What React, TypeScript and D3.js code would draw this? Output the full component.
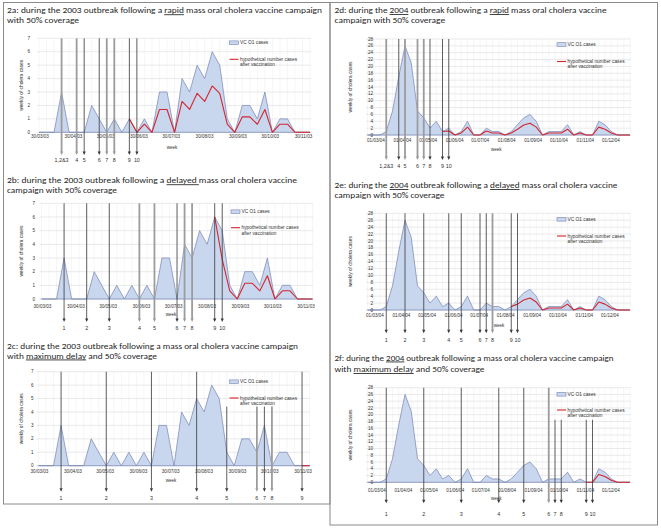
import React from 'react';
import * as d3 from 'd3';

const N = null;

// ---------- data ----------
const cases2003 = [0, 0, 0, 3, 0, 0, 0, 2, 1, 0, 1, 0, 1, 0, 1, 0, 3, 3, 0, 4, 3, 5, 4, 6, 5, 1, 0, 2, 2, 1, 3, 0, 1, 1, 0, 0, 0];
const rapid2003 = [N, N, N, N, N, N, N, N, N, N, N, N, 1, 0, 0.6, 0, 1.7, 1.7, 0, 2.3, 1.7, 2.9, 2.3, 3.45, 2.9, 0.6, 0, 1.15, 1.15, 0.6, 1.7, 0, 0.6, 0.6, 0, 0, 0];
const delayed2003 = [N, N, N, N, N, N, N, N, N, N, N, N, N, N, N, N, N, N, N, N, N, N, N, 6, 2.9, 0.6, 0, 1.15, 1.15, 0.6, 1.7, 0, 0.6, 0.6, 0, 0, 0];
const maxDelay2003 = [N, N, N, N, N, N, N, N, N, N, N, N, N, N, N, N, N, N, N, N, N, N, N, N, N, N, N, N, N, N, N, N, N, N, N, 0, 0];

const cases2004 = [0, 0, 0, 1, 7, 17, 26, 21, 7, 5, 2, 4, 1, 2, 0, 1, 4, 0, 0, 2, 1, 1, 0, 1, 3, 5, 6, 4, 0, 1, 1, 1, 3, 0, 1, 0, 0, 4, 3, 1, 0, 0, 0];
const rapid2004 = [N, N, N, N, N, N, N, N, N, N, N, N, 1, 1.15, 0, 0.6, 2.3, 0, 0, 1.15, 0.6, 0.6, 0, 0.6, 1.7, 2.9, 3.45, 2.3, 0, 0.6, 0.6, 0.6, 1.7, 0, 0.6, 0, 0, 2.3, 1.7, 0.6, 0, 0, 0];
const delayed2004 = [N, N, N, N, N, N, N, N, N, N, N, N, N, N, N, N, N, N, N, N, N, N, N, 1, 1.7, 2.9, 3.45, 2.3, 0, 0.6, 0.6, 0.6, 1.7, 0, 0.6, 0, 0, 2.3, 1.7, 0.6, 0, 0, 0];
const maxDelay2004 = [N, N, N, N, N, N, N, N, N, N, N, N, N, N, N, N, N, N, N, N, N, N, N, N, N, N, N, N, N, N, N, N, N, N, N, 0, 0, 2.3, 1.7, 0.6, 0, 0, 0];

const ticks2003 = ['30/03/03', '30/04/03', '30/05/03', '30/06/03', '30/07/03', '30/08/03', '30/09/03', '30/10/03', '30/11/03'];
const ticks2004 = ['01/03/04', '01/04/04', '01/05/04', '01/06/04', '01/07/04', '01/08/04', '01/09/04', '01/10/04', '01/11/04', '01/12/04'];

// vaccination round weeks (index in weekly series)
const arrowsRapid = [3, 5, 6, 8, 9, 10, 12, 13];
const labelsRapid = ['1,2&3', '4', '5', '6', '7', '8', '9', '10'];
const arrowsDelayed = [3, 6, 9, 13, 15, 18, 19, 20, 23, 24];
const labelsDelayed = ['1', '2', '3', '4', '5', '6', '7', '8', '9', '10'];
const arrowsMax2003 = [3, 9, 15, 21, 25, 29, 30, 31, 35];
const labelsMax2003 = ['1', '2', '3', '4', '5', '6', '7', '8', '9'];
const arrowsMax2004 = [3, 9, 15, 21, 25, 29, 30, 31, 35, 36];
const labelsMax2004 = ['1', '2', '3', '4', '5', '6', '7', '8', '9', '10'];

const legendCases = 'VC O1 cases';
const legendRed = ['hypothetical number cases', 'after vaccination'];
const yTitle = 'weekly of cholera cases';
const xTitle = 'week';

type Seg = { t: string; u?: boolean };
const titles: Record<string, Seg[][]> = {
  a: [[{ t: '2a: during the 2003 outbreak following a ' }, { t: 'rapid', u: true }, { t: ' mass oral cholera vaccine campaign' }], [{ t: 'with 50% coverage' }]],
  b: [[{ t: '2b: during the 2003 outbreak following a ' }, { t: 'delayed ', u: true }, { t: 'mass oral cholera vaccine' }], [{ t: 'campaign with 50% coverage' }]],
  c: [[{ t: '2c: during the 2003 outbreak following a mass oral cholera vaccine campaign' }], [{ t: 'with ' }, { t: 'maximum delay', u: true }, { t: ' and 50% coverage' }]],
  d: [[{ t: '2d: during the ' }, { t: '2004', u: true }, { t: ' outbreak following a ' }, { t: 'rapid', u: true }, { t: ' mass oral cholera vaccine' }], [{ t: 'campaign with 50% coverage' }]],
  e: [[{ t: '2e: during the ' }, { t: '2004', u: true }, { t: ' outbreak following a ' }, { t: 'delayed', u: true }, { t: ' mass oral cholera vaccine' }], [{ t: 'campaign with 50% coverage' }]],
  f: [[{ t: '2f: during the ' }, { t: '2004', u: true }, { t: ' outbreak following a mass oral cholera vaccine campaign' }], [{ t: 'with ' }, { t: 'maximum delay', u: true }, { t: ' and 50% coverage' }]],
};

// ---------- layout ----------
interface Cfg {
  title: Seg[][]; titleX: number; titleY: number[]; titleW: number[];
  cases: number[]; red: (number | null)[];
  x0: number; step: number; plotL: number; plotR: number;
  ticks: string[]; tickRange: [number, number]; tickY: number;
  yMax: number; yStep: number; yTop: number; yBottom: number; yTickX: number; yTitleX: number;
  week: [number, number];
  arrows: number[]; arrowLabels: string[]; arrowStyle: string; arrowTop: (number | null)[];
  arrowBottom: number; arrowLabelY: number;
  leg: [number, number, number];
}

const BLUE_FILL = '#c9d7ee';
const BLUE_LINE = '#7482b4';
const RED = '#d4262e';
const FONT = 'Liberation Sans, Arial, sans-serif';

const panels: Cfg[] = [
  {
    title: titles.a, titleX: 7, titleY: [13.3, 23.3], titleW: [315, 72],
    cases: cases2003, red: rapid2003, x0: 39, step: 7.53, plotL: 37, plotR: 311,
    ticks: ticks2003, tickRange: [40, 303.5], tickY: 136.8,
    yMax: 7, yStep: 1, yTop: 38.3, yBottom: 132.3, yTickX: 30, yTitleX: 21.7, week: [172, 147],
    arrows: arrowsRapid, arrowLabels: labelsRapid, arrowStyle: 'ggddggdd', arrowTop: [],
    arrowBottom: 155, arrowLabelY: 160.5, leg: [229.5, 42.7, 59.3],
  },
  {
    title: titles.b, titleX: 7, titleY: [183.3, 193.3], titleW: [290, 110],
    cases: cases2003, red: delayed2003, x0: 41.5, step: 7.53, plotL: 39.5, plotR: 313,
    ticks: ticks2003, tickRange: [42.5, 306], tickY: 306,
    yMax: 7, yStep: 1, yTop: 203.3, yBottom: 299, yTickX: 35, yTitleX: 21.7, week: [171, 314],
    arrows: arrowsDelayed, arrowLabels: labelsDelayed, arrowStyle: 'dddggdggdd', arrowTop: [],
    arrowBottom: 322, arrowLabelY: 328, leg: [231, 211.7, 227.7],
  },
  {
    title: titles.c, titleX: 7, titleY: [349, 358.5], titleW: [291, 150],
    cases: cases2003, red: maxDelay2003, x0: 38.5, step: 7.53, plotL: 36.5, plotR: 310,
    ticks: ticks2003, tickRange: [39.5, 303], tickY: 471.7,
    yMax: 7, yStep: 1, yTop: 371.7, yBottom: 465.7, yTickX: 33.5, yTitleX: 21.7, week: [171, 480.7],
    arrows: arrowsMax2003, arrowLabels: labelsMax2003, arrowStyle: 'dddddgdgd', arrowTop: [N, N, N, N, 4.4, 4.4, 4.4, 4.4, N],
    arrowBottom: 491.7, arrowLabelY: 497.7, leg: [229.5, 381.7, 398],
  },
  {
    title: titles.d, titleX: 334.5, titleY: [13, 23.3], titleW: [272, 110.6],
    cases: cases2004, red: rapid2004, x0: 367.5, step: 6.25, plotL: 366, plotR: 631,
    ticks: ticks2004, tickRange: [376, 611], tickY: 140.5,
    yMax: 28, yStep: 2, yTop: 39, yBottom: 135, yTickX: 373, yTitleX: 350.7, week: [496.3, 149.3],
    arrows: arrowsRapid, arrowLabels: labelsRapid, arrowStyle: 'gdgggddd', arrowTop: [],
    arrowBottom: 160, arrowLabelY: 166.5, leg: [557, 44.5, 61.5],
  },
  {
    title: titles.e, titleX: 334.5, titleY: [188, 198], titleW: [283, 110],
    cases: cases2004, red: delayed2004, x0: 367.5, step: 6.25, plotL: 366, plotR: 631,
    ticks: ticks2004, tickRange: [375, 610], tickY: 315.7,
    yMax: 28, yStep: 2, yTop: 213.3, yBottom: 310, yTickX: 373, yTitleX: 350.7, week: [499, 325],
    arrows: arrowsDelayed, arrowLabels: labelsDelayed, arrowStyle: 'dddddddgdd', arrowTop: [],
    arrowBottom: 333.3, arrowLabelY: 340, leg: [557, 219.3, 236],
  },
  {
    title: titles.f, titleX: 334.5, titleY: [360.5, 372], titleW: [279, 150],
    cases: cases2004, red: maxDelay2004, x0: 367.5, step: 6.25, plotL: 366, plotR: 631,
    ticks: ticks2004, tickRange: [377, 611], tickY: 490,
    yMax: 28, yStep: 2, yTop: 387.7, yBottom: 482.3, yTickX: 373, yTitleX: 350.7, week: [496.3, 498.3],
    arrows: arrowsMax2004, arrowLabels: labelsMax2004, arrowStyle: 'dddddgdddd', arrowTop: [N, N, N, N, N, N, 18.5, 18.5, 18.5, 18.5],
    arrowBottom: 503.3, arrowLabelY: 514, leg: [557, 394.3, 410],
  },
];

const parse = d3.timeParse('%d/%m/%y');

function Panel({ c }: { c: Cfg }) {
  const n = c.cases.length;
  const x = d3.scaleLinear().domain([0, n - 1]).range([c.x0, c.x0 + c.step * (n - 1)]);
  const y = d3.scaleLinear().domain([0, c.yMax]).range([c.yBottom, c.yTop]);
  const dates = c.ticks.map((s) => parse(s) as Date);
  const tx = d3.scaleTime().domain([dates[0], dates[dates.length - 1]]).range(c.tickRange);
  const areaGen = d3.area<number>().x((_, i) => x(i)).y0(y(0)).y1((d) => y(d));
  const lineGen = d3.line<number | null>().defined((d) => d != null).x((_, i) => x(i)).y((d) => y(d as number));
  const yTicks = d3.range(0, c.yMax + 0.001, c.yStep);
  const [lx, ly1, ly2] = c.leg;
  const yMid = (c.yTop + c.yBottom) / 2;
  return (
    <g>
      {c.title.map((line, li) => (
        <text key={li} x={c.titleX} y={c.titleY[li]} fontSize={8.6} fill="#262626"
          textLength={c.titleW[li]} lengthAdjust="spacingAndGlyphs" fontFamily="Carlito, 'Open Sans', 'Liberation Sans', sans-serif">
          {line.map((s, si) => (
            <tspan key={si} style={s.u ? { textDecoration: 'underline' } : undefined}>{s.t}</tspan>
          ))}
        </text>
      ))}
      {/* grid */}
      {d3.range(n).map((i) => (
        <line key={'v' + i} x1={x(i)} x2={x(i)} y1={c.yTop} y2={c.yBottom} stroke="#ececec" strokeWidth={0.5} />
      ))}
      {yTicks.map((t) => (
        <line key={'h' + t} x1={c.plotL} x2={c.plotR} y1={y(t)} y2={y(t)} stroke={t === 0 ? '#c8c8c8' : '#dcdcdc'} strokeWidth={0.6} />
      ))}
      {/* series */}
      <path d={areaGen(c.cases) || ''} fill={BLUE_FILL} stroke={BLUE_LINE} strokeWidth={0.7} strokeLinejoin="round" />
      <path d={lineGen(c.red) || ''} fill="none" stroke={RED} strokeWidth={1.1} strokeLinejoin="round" />
      {/* y axis labels */}
      {yTicks.map((t) => (
        <text key={'yt' + t} x={c.yTickX} y={y(t)} dy="0.35em" textAnchor="end" fontSize={4.6} fill="#333" fontFamily={FONT}>{t}</text>
      ))}
      <text transform={`translate(${c.yTitleX},${yMid}) rotate(-90)`} textAnchor="middle" dy="0.35em" fontSize={4.8} fill="#333" fontFamily={FONT}>{yTitle}</text>
      {dates.map((d, i) => (
        <text key={'xt' + i} x={tx(d)} y={c.tickY} dy="0.35em" textAnchor="middle" fontSize={4.6} fill="#333" fontFamily={FONT}>{c.ticks[i]}</text>
      ))}
      <text x={c.week[0]} y={c.week[1]} dy="0.35em" textAnchor="middle" fontSize={4.6} fill="#333" fontFamily={FONT}>{xTitle}</text>
      {/* legend */}
      <rect x={lx} y={ly1 - 1.8} width={9} height={3.6} fill={BLUE_FILL} stroke={BLUE_LINE} strokeWidth={0.6} />
      <text x={lx + 10.5} y={ly1} dy="0.35em" fontSize={4.8} fill="#333" fontFamily={FONT}>{legendCases}</text>
      <line x1={lx} x2={lx + 9} y1={ly2} y2={ly2} stroke={RED} strokeWidth={1.1} />
      <text x={lx + 10.5} y={ly2} dy="0.35em" fontSize={4.8} fill="#333" fontFamily={FONT}>{legendRed[0]}</text>
      <text x={lx + 10.5} y={ly2 + 5.3} dy="0.35em" fontSize={4.8} fill="#333" fontFamily={FONT}>{legendRed[1]}</text>
      {/* vaccination arrows */}
      {c.arrows.map((w, i) => {
        const ax = x(w);
        const gray = c.arrowStyle[i] === 'g';
        const col = gray ? '#9c9c9c' : '#383838';
        const topV = c.arrowTop[i] ?? c.yMax;
        const top = y(topV);
        return (
          <g key={'a' + i}>
            <line x1={ax} x2={ax} y1={top} y2={c.arrowBottom - 3} stroke={col} strokeWidth={gray ? 1.8 : 0.8} />
            <path d={`M${ax - 1.6},${c.arrowBottom - 3.5}L${ax + 1.6},${c.arrowBottom - 3.5}L${ax},${c.arrowBottom}Z`} fill={col} />
            <text x={ax} y={c.arrowLabelY} dy="0.35em" textAnchor="middle" fontSize={5.4} fill="#333" fontFamily={FONT}>{c.arrowLabels[i]}</text>
          </g>
        );
      })}
    </g>
  );
}

export default function App() {
  return (
    <svg width={661} height={529} viewBox="0 0 661 529" style={{ position: 'absolute', left: 0, top: 0, background: '#fff' }}>
      <rect x={0} y={0} width={661} height={529} fill="#fff" />
      <rect x={3.5} y={2.5} width={326.5} height={501.5} fill="none" stroke="#8a8a8a" strokeWidth={1} />
      <rect x={330} y={2.5} width={327.5} height={522.5} fill="none" stroke="#8a8a8a" strokeWidth={1} />
      {panels.map((c, i) => (
        <Panel key={i} c={c} />
      ))}
    </svg>
  );
}
